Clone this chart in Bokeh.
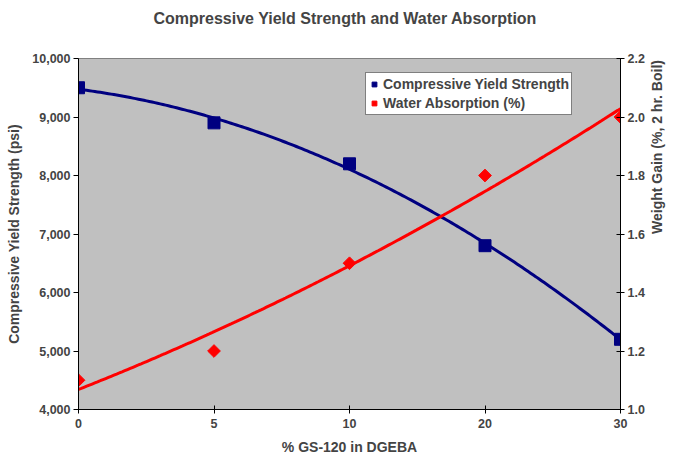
import math
import numpy as np
from bokeh.plotting import figure
from bokeh.models import Range1d, LinearAxis, FixedTicker, Legend, LegendItem, NumeralTickFormatter, Title
from bokeh.embed import file_html
from bokeh.resources import INLINE

categories = ["0", "5", "10", "20", "30"]
strength = [9500, 8900, 8200, 6800, 5200]
water = [1.1, 1.2, 1.5, 1.8, 2.0]
title_text = "Compressive Yield Strength and Water Absorption"
right_label = "Weight Gain (%, 2 hr. Boil)"

pos = list(range(len(categories)))
FONT = "Liberation Sans"

p = figure(width=675, height=457, output_backend="svg", toolbar_location=None,
           x_range=Range1d(0, 4), y_range=Range1d(4000, 10000),
           min_border_left=78, min_border_right=46, min_border_top=58, min_border_bottom=48)
p.extra_y_ranges = {"w": Range1d(1.0, 2.2)}

p.background_fill_color = "#C0C0C0"
p.border_fill_color = "white"
p.outline_line_color = "#808080"
p.grid.visible = False

# real title, with a blank spacer title between it and the plot frame
p.title.text = title_text
p.title.align = "left"
p.title.offset = 75
p.title.text_font = FONT
p.title.text_font_size = "16px"
p.title.text_font_style = "bold"
p.title.standoff = 0
p.add_layout(Title(text=" ", text_font_size="26px", standoff=0), "above")

# trendlines (2nd order polynomial on category positions)
xs = np.linspace(0, 4, 200)
cs = np.polyval(np.polyfit(pos, strength, 2), xs)
ws = np.polyval(np.polyfit(pos, water, 2), xs)
p.line(xs, cs, line_color="#000080", line_width=3)
p.line(xs, ws, line_color="#FF0000", line_width=3, y_range_name="w")

r1 = p.scatter(pos, strength, marker="square", size=12, fill_color="#000080", line_color="#000080")
r2 = p.scatter(pos, water, marker="square", size=9, angle=math.pi / 4,
               fill_color="#FF0000", line_color="#FF0000", y_range_name="w")

right = LinearAxis(y_range_name="w", axis_label=right_label)
right.ticker = FixedTicker(ticks=[1.0, 1.2, 1.4, 1.6, 1.8, 2.0, 2.2])
right.formatter = NumeralTickFormatter(format="0.0")
p.add_layout(right, "right")

p.xaxis.ticker = FixedTicker(ticks=pos)
p.xaxis.major_label_overrides = {i: c for i, c in zip(pos, categories)}
p.xaxis.axis_label = "% GS-120 in DGEBA"
p.yaxis[0].axis_label = "Compressive Yield Strength (psi)"
p.yaxis[0].ticker = FixedTicker(ticks=list(range(4000, 10001, 1000)))
p.yaxis[0].formatter = NumeralTickFormatter(format="0,0")

for ax in p.xaxis + p.yaxis:
    ax.axis_line_color = "black"
    ax.axis_line_width = 1
    ax.major_tick_line_color = "black"
    ax.minor_tick_line_color = None
    ax.major_tick_out = 5
    ax.major_tick_in = 0
    ax.major_label_text_font = FONT
    ax.major_label_text_font_style = "bold"
    ax.major_label_text_font_size = "12.5px"
    ax.major_label_standoff = 3
    ax.axis_label_text_font = FONT
    ax.axis_label_text_font_style = "bold"
    ax.axis_label_text_font_size = "14px"
    ax.axis_label_standoff = 7
p.xaxis.major_tick_in = 4
p.xaxis.major_tick_out = 4
p.xaxis.major_label_standoff = 5
p.xaxis.axis_label_standoff = 8
right.major_tick_in = 4
right.major_tick_out = 4
right.major_label_standoff = 3
right.axis_label_standoff = 9
right.axis_label_orientation = math.pi / 2

legend = Legend(items=[LegendItem(label="Compressive Yield Strength", renderers=[r1]),
                       LegendItem(label="Water Absorption (%)", renderers=[r2])],
                location=(287, 294), orientation="vertical")
legend.margin = 0
legend.border_line_color = "black"
legend.background_fill_color = "white"
legend.background_fill_alpha = 1
legend.label_text_font = FONT
legend.label_text_font_style = "bold"
legend.label_text_font_size = "14px"
legend.label_height = 18
legend.glyph_height = 18
legend.glyph_width = 12
legend.spacing = 1
legend.padding = 2
legend.label_standoff = 3
p.add_layout(legend, "center")

open("out.html", "w").write(file_html(p, INLINE))
